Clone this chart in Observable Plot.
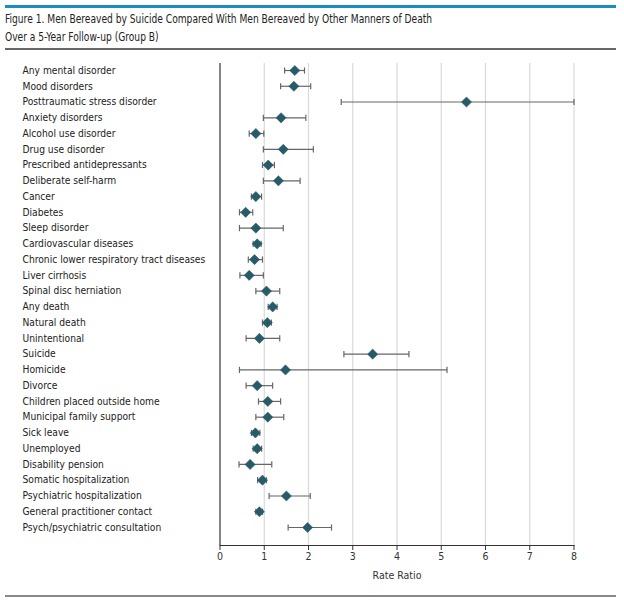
<!DOCTYPE html>
<html>
<head>
<meta charset="utf-8">
<script src="https://cdn.jsdelivr.net/npm/d3@7"></script>
<script src="https://cdn.jsdelivr.net/npm/@observablehq/plot@0.6"></script>
<style>
  body { margin: 0; background: #fff; font-family: "DejaVu Sans Condensed", sans-serif; }
  #wrap { position: relative; width: 624px; height: 615px; }
  #topbar { position: absolute; left: 5px; top: 5px; width: 611px; height: 3px; background: #1a8cc0; }
  #title { position: absolute; left: 5px; top: 10px; font-size: 12px; line-height: 18px; color: #222; white-space: nowrap; transform: scaleX(0.845); transform-origin: 0 0; }
  #rule1 { position: absolute; left: 5px; top: 48px; width: 611px; height: 2px; background: #666; }
  #chart { position: absolute; left: 0; top: 55px; }
  #rule2 { position: absolute; left: 5px; top: 595px; width: 611px; height: 2px; background: #888; }
</style>
</head>
<body>
<div id="wrap">
  <div id="topbar"></div>
  <div id="title">Figure 1. Men Bereaved by Suicide Compared With Men Bereaved by Other Manners of Death<br>Over a 5-Year Follow-up (Group B)</div>
  <div id="rule1"></div>
  <div id="chart"></div>
  <div id="rule2"></div>
</div>
<script>
const outcomes = [
  "Any mental disorder", "Mood disorders", "Posttraumatic stress disorder", "Anxiety disorders",
  "Alcohol use disorder", "Drug use disorder", "Prescribed antidepressants", "Deliberate self-harm",
  "Cancer", "Diabetes", "Sleep disorder", "Cardiovascular diseases",
  "Chronic lower respiratory tract diseases", "Liver cirrhosis", "Spinal disc herniation", "Any death",
  "Natural death", "Unintentional", "Suicide", "Homicide", "Divorce",
  "Children placed outside home", "Municipal family support", "Sick leave", "Unemployed",
  "Disability pension", "Somatic hospitalization", "Psychiatric hospitalization",
  "General practitioner contact", "Psych/psychiatric consultation"
];
const rateRatio = [1.69, 1.67, 5.57, 1.38, 0.81, 1.43, 1.09, 1.32, 0.81, 0.58, 0.81, 0.84,
  0.78, 0.66, 1.05, 1.19, 1.07, 0.89, 3.45, 1.48, 0.84, 1.08, 1.08, 0.80, 0.84, 0.68, 0.96, 1.50, 0.89, 1.98];
const ciLow = [1.46, 1.37, 2.74, 0.98, 0.66, 0.98, 0.96, 0.98, 0.71, 0.44, 0.44, 0.75,
  0.64, 0.45, 0.81, 1.09, 0.96, 0.59, 2.80, 0.44, 0.59, 0.87, 0.81, 0.71, 0.75, 0.43, 0.85, 1.11, 0.81, 1.54];
const ciHigh = [1.91, 2.05, 8.0, 1.94, 0.99, 2.11, 1.23, 1.81, 0.94, 0.74, 1.43, 0.93,
  0.96, 0.98, 1.35, 1.29, 1.16, 1.35, 4.27, 5.13, 1.19, 1.37, 1.44, 0.90, 0.94, 1.17, 1.05, 2.04, 0.96, 2.52];
const xTicks = [0, 1, 2, 3, 4, 5, 6, 7, 8];

const rows = outcomes.map((o, i) => ({outcome: o, rr: rateRatio[i], lo: ciLow[i], hi: ciHigh[i]}));

// vertical cap symbol for the CI whiskers
const capSymbol = {
  draw(context, size) {
    const h = Math.sqrt(size) / 2;
    context.moveTo(0, -h);
    context.lineTo(0, h);
  }
};

const font = "'DejaVu Sans Condensed', sans-serif";

const chart = Plot.plot({
  width: 624,
  height: 540,
  marginLeft: 219.5,
  marginRight: 50.5,
  marginTop: 8,
  marginBottom: 50,
  style: {fontFamily: font, fontSize: "10px", color: "#222", overflow: "visible"},
  x: {domain: [0, 8], ticks: xTicks, label: null},
  y: {type: "point", domain: outcomes, padding: 0, round: false, insetTop: 7, insetBottom: 18, label: null},
  marks: [
    Plot.ruleX(xTicks.filter(d => d > 0), {stroke: "#d9d9d9", strokeWidth: 1.2}),
    Plot.ruleX([0], {stroke: "#333", strokeWidth: 1.2}),
    Plot.frame({anchor: "bottom", stroke: "#333", strokeWidth: 1.2}),
    Plot.axisX({ticks: xTicks, tickSize: 5, tickPadding: 2, fontSize: 10.5, stroke: "#333", color: "#333", label: null}),
    Plot.text(["Rate Ratio"], {frameAnchor: "bottom", dy: 33, fontSize: 10.5, fill: "#333", x: () => 4}),
    Plot.axisY({tickSize: 0, tickPadding: 0, textAnchor: "start", dx: -197.5, fontSize: 10.2, fill: "#222", label: null}),
    Plot.link(rows, {x1: "lo", x2: "hi", y1: "outcome", y2: "outcome", stroke: "#666", strokeWidth: 1.2}),
    Plot.dot(rows, {x: "lo", y: "outcome", symbol: capSymbol, r: 3.5, stroke: "#666", strokeWidth: 1.2, fill: "none"}),
    Plot.dot(rows, {x: "hi", y: "outcome", symbol: capSymbol, r: 3.5, stroke: "#666", strokeWidth: 1.2, fill: "none"}),
    Plot.dot(rows, {x: "rr", y: "outcome", symbol: "diamond2", r: 4.6, fill: "#275b68", stroke: "#275b68", strokeWidth: 0.5})
  ]
});
document.getElementById("chart").appendChild(chart);
</script>
</body>
</html>
